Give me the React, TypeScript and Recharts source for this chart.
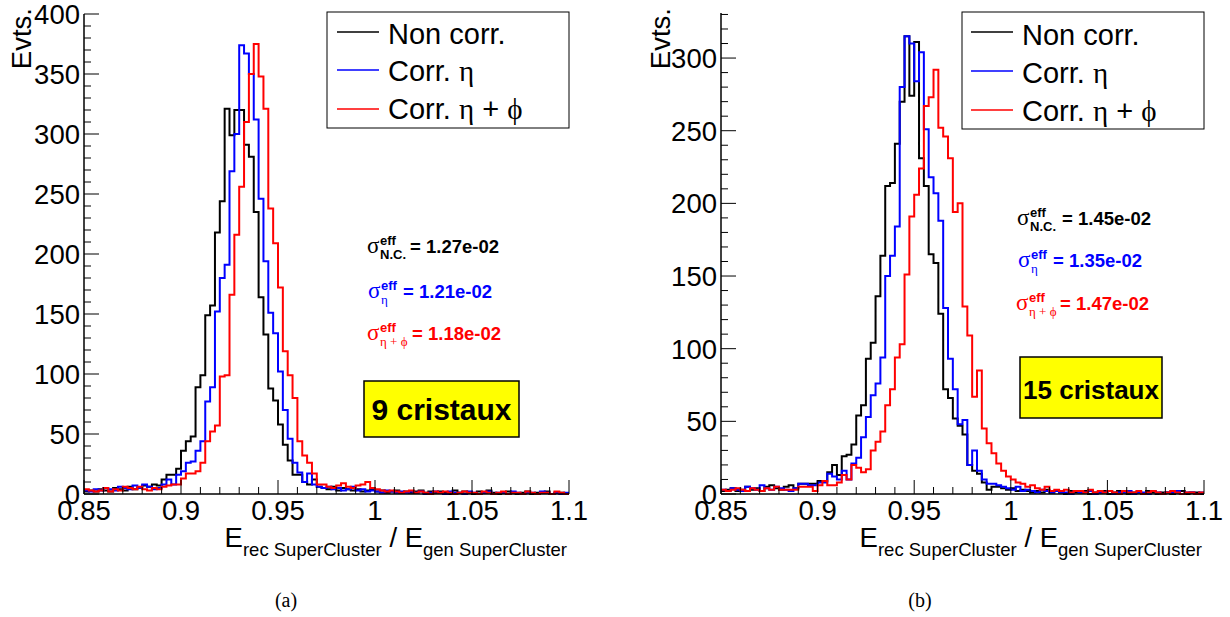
import { LineChart, Line, XAxis, YAxis } from 'recharts'

const FONT = '"Liberation Sans", Arial, Helvetica, sans-serif'
const SERIF = '"Liberation Serif", "DejaVu Serif", serif'

// histogram binning: 100 bins between 0.85 and 1.1
const BIN_LO = 0.85
const BIN_W = 0.0025
const X_MAX = 1.1

const X_TICKS = [
  0.85, 0.86, 0.87, 0.88, 0.89, 0.9, 0.91, 0.92, 0.93, 0.94, 0.95, 0.96, 0.97,
  0.98, 0.99, 1, 1.01, 1.02, 1.03, 1.04, 1.05, 1.06, 1.07, 1.08, 1.09, 1.1,
]
const X_LABELS = ['0.85', '0.9', '0.95', '1', '1.05', '1.1']

const Y_MAJOR_9 = [0, 50, 100, 150, 200, 250, 300, 350, 400]
const Y_MAJOR_15 = [0, 50, 100, 150, 200, 250, 300]
const Y_MAX_9 = 400
const Y_MAX_15 = 331

// (a) 9 cristaux
const nonCorr9 = [
  2, 3, 2, 4, 3, 2, 5, 4, 3, 6, 4, 5, 7, 6, 8, 7, 12, 16, 16, 21,
  36, 44, 48, 89, 99, 149, 157, 218, 244, 321, 299, 320, 320, 291, 281, 235, 164, 133, 88, 78,
  58, 41, 28, 16, 16, 10, 8, 12, 6, 5, 4, 6, 3, 5, 4, 3, 4, 2, 3, 4,
  2, 3, 1, 2, 3, 1, 2, 1, 2, 3, 1, 2, 1, 2, 1, 0, 3, 1, 2, 1,
  0, 2, 1, 3, 1, 0, 1, 2, 1, 0, 1, 2, 0, 1, 1, 2, 0, 1, 1, 0,
]
const corrEta9 = [
  3, 2, 4, 3, 5, 4, 3, 6, 5, 4, 7, 5, 8, 6, 4, 5, 8, 12, 8, 16,
  19, 26, 27, 36, 44, 77, 89, 152, 180, 191, 269, 300, 374, 367, 350, 312, 246, 194, 151, 134,
  102, 70, 46, 26, 18, 10, 17, 8, 6, 5, 6, 4, 5, 3, 4, 6, 3, 4, 2, 3,
  2, 1, 3, 2, 1, 2, 1, 2, 1, 2, 0, 1, 2, 1, 0, 2, 1, 1, 0, 2,
  1, 0, 1, 2, 0, 1, 1, 0, 2, 1, 0, 1, 1, 0, 2, 1, 0, 1, 0, 1,
]
const corrEtaPhi9 = [
  4, 3, 2, 3, 5, 2, 4, 3, 6, 5, 4, 6, 4, 3, 5, 4, 6, 7, 8, 8,
  13, 17, 17, 19, 26, 44, 52, 57, 98, 99, 166, 216, 256, 310, 350, 375, 348, 321, 238, 209,
  172, 119, 99, 80, 44, 32, 26, 17, 8, 8, 6, 5, 7, 9, 6, 5, 7, 8, 10, 5,
  4, 3, 2, 3, 2, 1, 2, 3, 1, 2, 1, 0, 2, 1, 2, 1, 0, 1, 2, 1,
  1, 0, 2, 1, 0, 1, 2, 0, 1, 1, 0, 2, 1, 0, 1, 1, 0, 2, 1, 0,
]

// (b) 15 cristaux
const nonCorr15 = [
  2, 3, 4, 2, 3, 5, 3, 4, 2, 5, 6, 4, 3, 5, 6, 4, 7, 7, 7, 7,
  9, 9, 15, 20, 13, 26, 27, 34, 54, 61, 93, 104, 136, 164, 212, 214, 241, 270, 315, 274,
  311, 231, 212, 165, 159, 124, 72, 66, 52, 47, 41, 20, 16, 14, 8, 3, 5, 5, 4, 3,
  4, 2, 3, 2, 1, 2, 1, 3, 1, 2, 1, 0, 2, 1, 1, 2, 0, 1, 1, 2,
  0, 1, 2, 1, 0, 1, 1, 0, 2, 1, 0, 1, 1, 0, 1, 2, 0, 1, 1, 0,
]
const corrEta15 = [
  3, 2, 4, 3, 2, 5, 4, 3, 6, 4, 3, 5, 4, 3, 2, 4, 7, 7, 6, 6,
  8, 8, 14, 12, 10, 16, 10, 21, 25, 39, 53, 68, 76, 94, 150, 164, 184, 280, 315, 310,
  284, 304, 251, 218, 207, 188, 128, 93, 72, 48, 51, 20, 30, 16, 10, 7, 7, 6, 5, 4,
  3, 5, 2, 3, 2, 1, 3, 2, 1, 2, 1, 1, 0, 2, 1, 1, 2, 0, 1, 1,
  2, 0, 1, 1, 2, 0, 1, 1, 0, 2, 1, 0, 1, 1, 2, 0, 1, 1, 0, 1,
]
const corrEtaPhi15 = [
  3, 2, 3, 4, 3, 2, 4, 3, 2, 4, 3, 5, 3, 3, 3, 3, 5, 5, 5, 2,
  6, 9, 6, 6, 8, 13, 10, 20, 18, 15, 17, 30, 36, 43, 61, 72, 94, 103, 151, 191,
  206, 224, 267, 273, 292, 252, 246, 231, 194, 200, 129, 109, 67, 85, 45, 35, 28, 21, 16, 12,
  10, 8, 7, 5, 6, 4, 3, 5, 2, 3, 2, 3, 1, 2, 2, 1, 3, 1, 2, 1,
  2, 1, 0, 2, 1, 1, 2, 0, 1, 2, 1, 0, 1, 2, 1, 0, 1, 1, 0, 1,
]

const SIGMA_9 = ['1.27e-02', '1.21e-02', '1.18e-02']
const SIGMA_15 = ['1.45e-02', '1.35e-02', '1.47e-02']
const COLORS = ['#000000', '#0000ff', '#ff0000']

function buildRows(nc: number[], eta: number[], etaPhi: number[]) {
  const rows = nc.map((v, i) => ({
    x: +(BIN_LO + i * BIN_W).toFixed(4),
    nc: v,
    eta: eta[i],
    etaPhi: etaPhi[i],
  }))
  const last = nc.length - 1
  rows.push({ x: X_MAX, nc: nc[last], eta: eta[last], etaPhi: etaPhi[last] })
  return rows
}

function minorTicks(majors: number[], max: number) {
  const out: number[] = []
  for (let v = 0; v <= max; v += 10) out.push(v)
  majors.forEach(m => { if (!out.includes(m)) out.push(m) })
  return out
}

const fmtX = (v: number) => String(Math.round(v * 100) / 100)
const isMajorX = (v: number) => X_LABELS.includes(fmtX(v))

const BottomTick = (props: any) => {
  const { x, y, payload } = props
  const major = isMajorX(payload.value)
  return (
    <g>
      <line x1={x} x2={x} y1={y} y2={y - (major ? 14 : 7)} stroke="#000" strokeWidth={1} />
      {major && (
        <text x={x} y={y + 26} textAnchor="middle" fontSize={27.5} fontFamily={FONT} fill="#000">
          {fmtX(payload.value)}
        </text>
      )}
    </g>
  )
}

const TopTick = (props: any) => {
  const { x, y, payload } = props
  const major = isMajorX(payload.value)
  return <line x1={x} x2={x} y1={y} y2={y + (major ? 14 : 7)} stroke="#000" strokeWidth={1} />
}

const makeLeftTick = (majors: number[]) => (props: any) => {
  const { x, y, payload } = props
  const major = majors.includes(payload.value)
  return (
    <g>
      <line x1={x} x2={x + (major ? 15 : 7)} y1={y} y2={y} stroke="#000" strokeWidth={1} />
      {major && (
        <text x={x - 4} y={y + 10} textAnchor="end" fontSize={27.5} fontFamily={FONT} fill="#000">
          {payload.value}
        </text>
      )}
    </g>
  )
}

const makeRightTick = (majors: number[]) => (props: any) => {
  const { x, y, payload } = props
  const major = majors.includes(payload.value)
  return <line x1={x} x2={x - (major ? 15 : 7)} y1={y} y2={y} stroke="#000" strokeWidth={1} />
}

const axisLine = { stroke: '#000', strokeWidth: 1.5 }

function Panel({ left, plotLeft, plotRight, plotTop, rows, yMax, yMajors }: any) {
  const W = 615
  const H = 617
  const yAxisW = 60
  const xAxisH = 40
  const yTicks = minorTicks(yMajors, yMax)
  return (
    <div style={{ position: 'absolute', left, top: 0 }}>
      <LineChart
        width={W}
        height={H}
        data={rows}
        margin={{ left: plotLeft - yAxisW, right: W - plotRight, top: plotTop, bottom: H - 494 - xAxisH }}
      >
        <XAxis xAxisId="b" type="number" dataKey="x" domain={[BIN_LO, X_MAX]} ticks={X_TICKS} interval={0}
          tickSize={0} tickMargin={0} tickLine={false} height={xAxisH} axisLine={axisLine} tick={BottomTick} />
        <XAxis xAxisId="t" orientation="top" type="number" dataKey="x" domain={[BIN_LO, X_MAX]} ticks={X_TICKS}
          interval={0} tickSize={0} tickMargin={0} tickLine={false} height={0} axisLine={axisLine} tick={TopTick} />
        <YAxis yAxisId="l" type="number" domain={[0, yMax]} ticks={yTicks} interval={0} width={yAxisW}
          tickSize={0} tickMargin={0} tickLine={false} axisLine={axisLine} tick={makeLeftTick(yMajors)} />
        <YAxis yAxisId="r" orientation="right" type="number" domain={[0, yMax]} ticks={yTicks} interval={0}
          width={0} tickSize={0} tickMargin={0} tickLine={false} axisLine={axisLine} tick={makeRightTick(yMajors)} />
        <Line xAxisId="b" yAxisId="l" type="stepAfter" dataKey="nc" stroke={COLORS[0]} strokeWidth={2}
          dot={false} isAnimationActive={false} />
        <Line xAxisId="b" yAxisId="l" type="stepAfter" dataKey="eta" stroke={COLORS[1]} strokeWidth={2}
          dot={false} isAnimationActive={false} />
        <Line xAxisId="b" yAxisId="l" type="stepAfter" dataKey="etaPhi" stroke={COLORS[2]} strokeWidth={2}
          dot={false} isAnimationActive={false} />
      </LineChart>
    </div>
  )
}

function LegendBox({ x, y, w, h, lineX, textX, rowsY, baselines }: any) {
  const labels = [
    <>Non corr.</>,
    <>Corr. <tspan fontFamily={SERIF}>η</tspan></>,
    <>Corr. <tspan fontFamily={SERIF}>η</tspan> + <tspan fontFamily={SERIF}>ϕ</tspan></>,
  ]
  return (
    <g>
      <rect x={x} y={y} width={w} height={h} fill="#fff" stroke="#000" strokeWidth={1} />
      {labels.map((label, i) => (
        <g key={i}>
          <line x1={lineX} x2={lineX + 42} y1={rowsY[i]} y2={rowsY[i]} stroke={COLORS[i]} strokeWidth={1.5} />
          <text x={textX} y={baselines[i]} fontSize={29} fontFamily={FONT} fill="#000">{label}</text>
        </g>
      ))}
    </g>
  )
}

function Sigma({ x, y, color, sub, value, dx, boldSub }: any) {
  return (
    <g fill={color} fontFamily={FONT}>
      <text x={x} y={y} fontSize={23} fontFamily={SERIF}>σ</text>
      <text x={x + 13} y={y - 8} fontSize={13} fontWeight="bold">eff</text>
      <text x={x + 13} y={y + 6} fontSize={13} fontWeight={boldSub ? 'bold' : 'normal'}
        fontFamily={boldSub ? FONT : SERIF}>{sub}</text>
      <text x={x + dx} y={y} fontSize={18.5} fontWeight="bold">= {value}</text>
    </g>
  )
}

function XTitle({ xEnd, y }: any) {
  return (
    <text x={xEnd} y={y} textAnchor="end" fontSize={27.5} fontFamily={FONT} fill="#000">
      E<tspan fontSize={18.5} dy={9}>rec SuperCluster</tspan>
      <tspan fontSize={27.5} dy={-9}> / E</tspan>
      <tspan fontSize={18.5} dy={9}>gen SuperCluster</tspan>
    </text>
  )
}

function YTitle({ x, y }: any) {
  return (
    <text x={x} y={y} transform={`rotate(-90 ${x} ${y})`} textAnchor="end" fontSize={27.5} fontFamily={FONT} fill="#000">
      Evts.
    </text>
  )
}

export default function App() {
  const rows9 = buildRows(nonCorr9, corrEta9, corrEtaPhi9)
  const rows15 = buildRows(nonCorr15, corrEta15, corrEtaPhi15)

  return (
    <div style={{ position: 'absolute', left: 0, top: 0, width: 1230, height: 617, background: '#fff' }}>
      <Panel left={0} plotLeft={84} plotRight={569} plotTop={14} rows={rows9} yMax={Y_MAX_9} yMajors={Y_MAJOR_9} />
      <Panel left={615} plotLeft={106} plotRight={589} plotTop={13} rows={rows15} yMax={Y_MAX_15} yMajors={Y_MAJOR_15} />

      <svg width={1230} height={617} style={{ position: 'absolute', left: 0, top: 0, pointerEvents: 'none' }}>
        <LegendBox x={327} y={12} w={242} h={116} lineX={337} textX={388} rowsY={[32, 70, 109]} baselines={[44, 81, 119]} />
        <LegendBox x={962} y={12} w={242} h={117} lineX={971} textX={1022} rowsY={[32, 71, 110]} baselines={[45, 83, 121]} />

        <Sigma x={367} y={253} color={COLORS[0]} sub="N.C." boldSub value={SIGMA_9[0]} dx={43} />
        <Sigma x={368} y={298} color={COLORS[1]} sub="η" value={SIGMA_9[1]} dx={35} />
        <Sigma x={367} y={340} color={COLORS[2]} sub="η + ϕ" value={SIGMA_9[2]} dx={45} />

        <Sigma x={1017} y={225} color={COLORS[0]} sub="N.C." boldSub value={SIGMA_15[0]} dx={45} />
        <Sigma x={1018} y={267} color={COLORS[1]} sub="η" value={SIGMA_15[1]} dx={35} />
        <Sigma x={1016} y={310} color={COLORS[2]} sub="η + ϕ" value={SIGMA_15[2]} dx={44} />

        <rect x={364} y={381} width={155} height={56} fill="#ffff00" stroke="#000" strokeWidth={1.5} />
        <text x={441.5} y={420} textAnchor="middle" fontSize={30} fontWeight="bold" fontFamily={FONT} fill="#000">9 cristaux</text>
        <rect x={1020} y={357} width={142} height={61} fill="#ffff00" stroke="#000" strokeWidth={1.5} />
        <text x={1091} y={399} textAnchor="middle" fontSize={26} fontWeight="bold" fontFamily={FONT} fill="#000">15 cristaux</text>

        <XTitle xEnd={567} y={547} />
        <XTitle xEnd={1202} y={547} />
        <YTitle x={31} y={8} />
        <YTitle x={670} y={8} />

        <text x={286} y={607} textAnchor="middle" fontSize={20} fontFamily={SERIF} fill="#000">(a)</text>
        <text x={920} y={607} textAnchor="middle" fontSize={20} fontFamily={SERIF} fill="#000">(b)</text>
      </svg>
    </div>
  )
}
